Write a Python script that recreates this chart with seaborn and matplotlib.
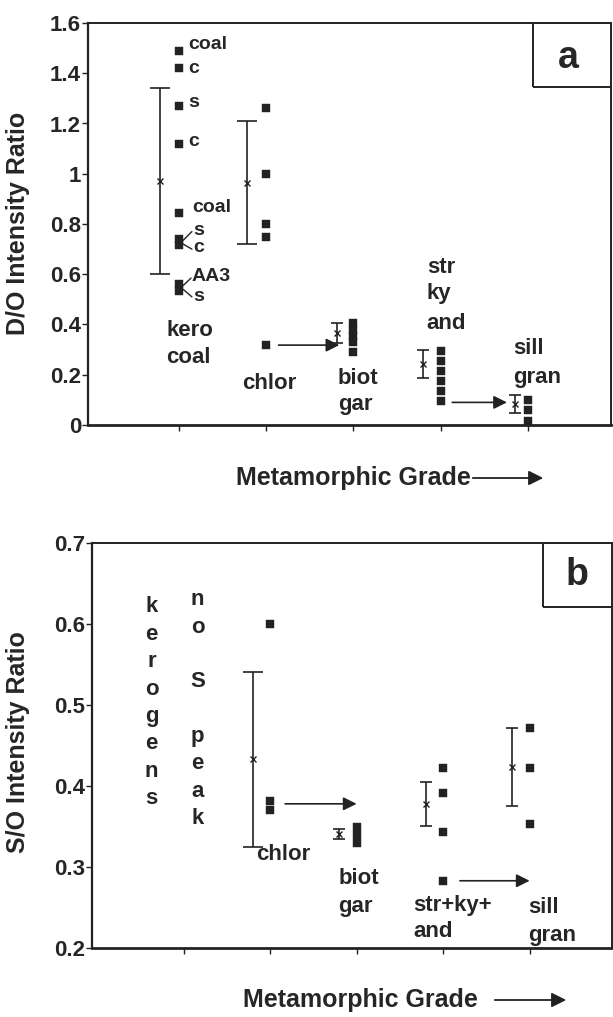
import numpy as np
import pandas as pd
import matplotlib
matplotlib.use("Agg")
import matplotlib.pyplot as plt
from matplotlib.patches import Rectangle, FancyArrowPatch
import seaborn as sns

# ---------------- data ----------------
# Panel a : D/O intensity ratio
a_kero_y = [1.49, 1.42, 1.27, 1.12, 0.845, 0.74, 0.715, 0.56, 0.535]
a_kero_lbl = ["coal", "c", "s", "c", "coal", "s", "c", "AA3", "s"]
a_chl_group_y = [1.26, 1.00, 0.80, 0.75]
a_chlor_y = [0.32]
a_biot_y = [0.405, 0.38, 0.355, 0.33, 0.29]
a_str_y = [0.295, 0.255, 0.215, 0.175, 0.135, 0.095]
a_sill_y = [0.10, 0.06, 0.015]
a_err_x = [0.78, 1.78, 2.81, 3.80, 4.85]
a_err_mean = [0.97, 0.965, 0.365, 0.243, 0.085]
a_err_sd = [0.37, 0.245, 0.04, 0.055, 0.036]
a_yticks = [0, 0.2, 0.4, 0.6, 0.8, 1.0, 1.2, 1.4, 1.6]
a_yticklabels = ["0", "0.2", "0.4", "0.6", "0.8", "1", "1.2", "1.4", "1.6"]

# Panel b : S/O intensity ratio
b_chlor_y = [0.60, 0.382, 0.370]
b_biot_y = [0.350, 0.340, 0.330]
b_str_y = [0.422, 0.391, 0.343, 0.283]
b_sill_y = [0.471, 0.422, 0.353]
b_err_x = [1.80, 2.80, 3.80, 4.80]
b_err_mean = [0.433, 0.341, 0.378, 0.423]
b_err_sd = [0.108, 0.006, 0.027, 0.048]
b_yticks = [0.2, 0.3, 0.4, 0.5, 0.6, 0.7]
b_yticklabels = ["0.2", "0.3", "0.4", "0.5", "0.6", "0.7"]

grade_ticks = [1, 2, 3, 4, 5]

# ---------------- style ----------------
sns.set_style("ticks")
plt.rcParams["font.family"] = ["Liberation Sans", "DejaVu Sans"]
plt.rcParams["font.weight"] = "bold"

W, H = 613, 1017
fig = plt.figure(figsize=(W / 100, H / 100), dpi=100)

def fx(px):
    return px / W

def fy(py):
    return 1 - py / H

axA = fig.add_axes([fx(88), fy(425), fx(611) - fx(88), fy(23) - fy(425)])
axB = fig.add_axes([fx(92), fy(948), fx(612) - fx(92), fy(543) - fy(948)])

def build(groups):
    rows = []
    for xv, ys in groups:
        for y in ys:
            rows.append({"grade": xv, "ratio": y})
    return pd.DataFrame(rows)

dfA = build([(1, a_kero_y), (2, a_chl_group_y), (2, a_chlor_y), (3, a_biot_y),
             (4, a_str_y), (5, a_sill_y)])
dfB = build([(2, b_chlor_y), (3, b_biot_y), (4, b_str_y), (5, b_sill_y)])

for ax, df in ((axA, dfA), (axB, dfB)):
    sns.scatterplot(data=df, x="grade", y="ratio", marker="s", s=34,
                    color="#222222", edgecolor="#222222", linewidth=0.3, ax=ax,
                    zorder=3)

def errs(ax, xs, means, sds):
    for x, m, s in zip(xs, means, sds):
        cap = 7 if s > 0.1 else 4
        ax.errorbar([x], [m], yerr=[s], fmt="none", ecolor="#222222",
                    elinewidth=1.2, capsize=cap, capthick=1.2, zorder=2)
        ax.plot([x], [m], marker="x", ms=4, mew=1.0, color="#222222", zorder=3)

errs(axA, a_err_x, a_err_mean, a_err_sd)
errs(axB, b_err_x, b_err_mean, b_err_sd)

# axes styling
for ax, xl, yl, ticks, tl in ((axA, (-0.04, 5.95), (0, 1.6), a_yticks, a_yticklabels),
                              (axB, (-0.06, 5.95), (0.2, 0.7), b_yticks, b_yticklabels)):
    ax.set_xlim(*xl)
    ax.set_ylim(*yl)
    ax.set_xticks(grade_ticks)
    ax.set_xticklabels([])
    ax.set_yticks(ticks)
    ax.set_yticklabels(tl, fontsize=16, fontweight="bold")
    ax.tick_params(axis="both", direction="out", length=4, width=1.0, color="#222222",
                   pad=1)
    ax.set_xlabel("")
    ax.set_ylabel("")
    for sp in ax.spines.values():
        sp.set_linewidth(1.4)
        sp.set_color("#222222")
    ax.spines["bottom"].set_linewidth(2.0)
    ax.spines["left"].set_linewidth(1.6)

fig.text(fx(18), fy(223), "D/O Intensity Ratio", fontsize=18, fontweight="bold",
         rotation=90, ha="center", va="center")
fig.text(fx(18), fy(742), "S/O Intensity Ratio", fontsize=18, fontweight="bold",
         rotation=90, ha="center", va="center")

# x labels with arrows
fig.text(fx(353), fy(478), "Metamorphic Grade", fontsize=18, fontweight="bold",
         ha="center", va="center")
fig.patches.append(FancyArrowPatch(
    (fx(470), fy(478)), (fx(546), fy(478)), transform=fig.transFigure,
    arrowstyle="-|>", mutation_scale=22, lw=1.3, color="#222222"))
fig.text(fx(360), fy(1000), "Metamorphic Grade", fontsize=18, fontweight="bold",
         ha="center", va="center")
fig.patches.append(FancyArrowPatch(
    (fx(492), fy(1000)), (fx(569), fy(1000)), transform=fig.transFigure,
    arrowstyle="-|>", mutation_scale=22, lw=1.3, color="#222222"))

# panel letters
for ax, x0, y0, tx, ty, lt in ((axA, 0.851, 0.841, 0.918, 0.913, "a"),
                                (axB, 0.867, 0.842, 0.933, 0.921, "b")):
    ax.add_patch(Rectangle((x0, y0), 1.2 - x0, 1 - y0, transform=ax.transAxes,
                           fill=False, lw=1.4, ec="#222222", clip_on=True))
    ax.text(tx, ty, lt, transform=ax.transAxes, fontsize=27, fontweight="bold",
            ha="center", va="center")

# ---- panel a annotations ----
lbl_pos = [(1.11, 1.515), (1.11, 1.42), (1.11, 1.285), (1.11, 1.13), (1.15, 0.865),
           (1.17, 0.775), (1.17, 0.705), (1.15, 0.59), (1.17, 0.51)]
for (x, y), t in zip(lbl_pos, a_kero_lbl):
    axA.text(x, y, t, fontsize=14, fontweight="bold", ha="left", va="center")
# leader lines
for (x0, y0, x1, y1) in ((1.05, 0.735, 1.15, 0.77), (1.05, 0.72, 1.15, 0.70),
                         (1.05, 0.555, 1.14, 0.585), (1.05, 0.54, 1.15, 0.51)):
    axA.plot([x0, x1], [y0, y1], color="#222222", lw=1.0)

grpA = [("kero", 0.86, 0.377), ("coal", 0.86, 0.27), ("chlor", 1.73, 0.167),
        ("biot", 2.82, 0.187), ("gar", 2.82, 0.08),
        ("str", 3.84, 0.627), ("ky", 3.84, 0.524), ("and", 3.84, 0.405),
        ("sill", 4.83, 0.306), ("gran", 4.83, 0.19)]
for t, x, y in grpA:
    axA.text(x, y, t, fontsize=16, fontweight="bold", ha="left", va="center")

arrow_kw = dict(arrowstyle="-|>", mutation_scale=20, lw=1.2, color="#222222")
axA.annotate("", xy=(2.87, 0.318), xytext=(2.11, 0.318), arrowprops=arrow_kw)
axA.annotate("", xy=(4.79, 0.09), xytext=(4.10, 0.09), arrowprops=arrow_kw)

# ---- panel b annotations ----
step = 0.0338
for i, ch in enumerate("kerogens"):
    axB.text(0.63, 0.621 - i * step, ch, fontsize=16, fontweight="bold",
             ha="center", va="center")
for i, ch in enumerate(["n", "o", "", "S", "", "p", "e", "a", "k"]):
    if ch:
        axB.text(1.16, 0.630 - i * step, ch, fontsize=16, fontweight="bold",
                 ha="center", va="center")

grpB = [("chlor", 1.84, 0.315), ("biot", 2.79, 0.2855), ("gar", 2.79, 0.251),
        ("str+ky+", 3.65, 0.252), ("and", 3.65, 0.220),
        ("sill", 4.98, 0.250), ("gran", 4.98, 0.215)]
for t, x, y in grpB:
    axB.text(x, y, t, fontsize=16, fontweight="bold", ha="left", va="center")

axB.annotate("", xy=(3.03, 0.378), xytext=(2.14, 0.378), arrowprops=arrow_kw)
axB.annotate("", xy=(5.03, 0.283), xytext=(4.16, 0.283), arrowprops=arrow_kw)

fig.savefig("out.png", dpi=100)
